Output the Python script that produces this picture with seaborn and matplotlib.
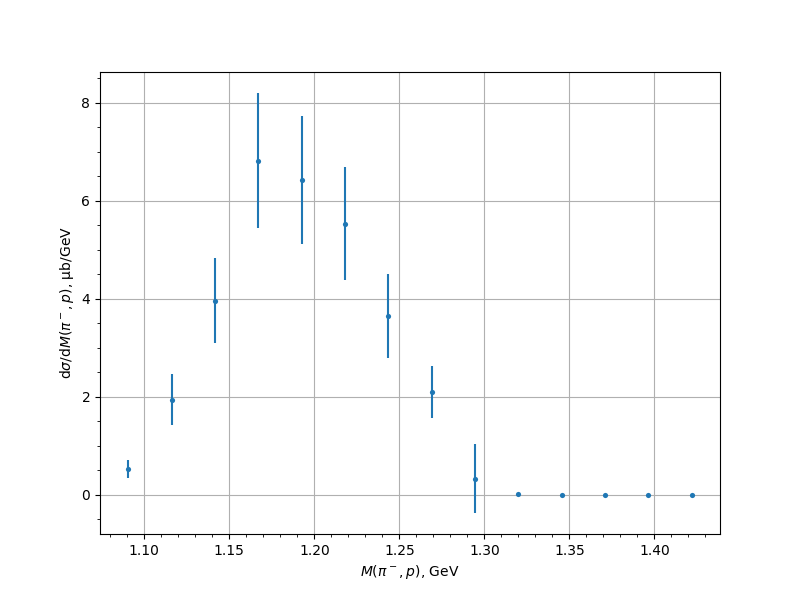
import numpy as np
import pandas as pd
import seaborn as sns
import matplotlib
matplotlib.use('Agg')
import matplotlib.pyplot as plt

# invariant mass bin centres, GeV
mass = [1.0905, 1.1160, 1.1415, 1.1670, 1.1925, 1.2180, 1.2435,
        1.2690, 1.2945, 1.3200, 1.3455, 1.3710, 1.3965, 1.4220]
# cross section, mub/GeV
xsec = [0.53, 1.945, 3.965, 6.82, 6.43, 5.53, 3.65,
        2.10, 0.33, 0.02, 0.0, 0.0, 0.0, 0.0]
xsec_err = [0.18, 0.52, 0.865, 1.38, 1.305, 1.15, 0.855,
            0.53, 0.70, 0.02, 0.0, 0.0, 0.0, 0.0]

df = pd.DataFrame({'mass': mass, 'xsec': xsec, 'err': xsec_err})

fig, ax = plt.subplots(figsize=(8, 6), dpi=100)
ax.errorbar(df['mass'], df['xsec'], yerr=df['err'], fmt='none',
            ecolor='C0', elinewidth=1.5)
sns.scatterplot(data=df, x='mass', y='xsec', ax=ax, color='C0',
                s=14, linewidth=0, zorder=3)

ax.set_xlabel(r'$M(\pi^-,p)$, GeV')
ax.set_ylabel(r'$\mathrm{d}\sigma/\mathrm{d}M(\pi^-,p)$, μb/GeV')
ax.minorticks_on()
ax.grid(True, which='major')

fig.savefig('out.png', dpi=100)
